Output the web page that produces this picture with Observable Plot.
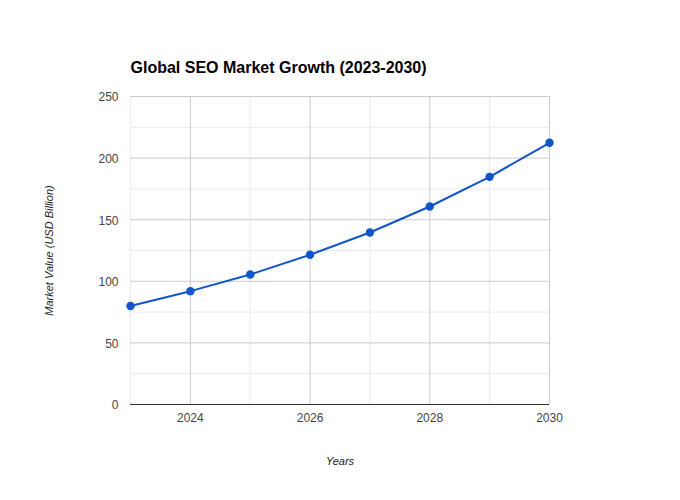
<!DOCTYPE html>
<html>
<head>
<meta charset="utf-8">
<script src="https://cdn.jsdelivr.net/npm/d3@7"></script>
<script src="https://cdn.jsdelivr.net/npm/@observablehq/plot@0.6"></script>
<style>
  html, body { margin: 0; padding: 0; background: #fff; }
  #chart svg { display: block; }
</style>
</head>
<body>
<div id="chart"></div>
<script>
const titleText = "Global SEO Market Growth (2023-2030)";
const xLabel = "Years";
const yLabel = "Market Value (USD Billion)";
const years = [2023, 2024, 2025, 2026, 2027, 2028, 2029, 2030];
const values = [80, 92, 105.5, 121.5, 139.6, 160.7, 184.8, 212.4];
const xTicks = [2024, 2026, 2028, 2030];
const xMinor = [2023, 2025, 2027, 2029];
const yTicks = [0, 50, 100, 150, 200, 250];
const yMinor = [25, 75, 125, 175, 225];

const data = years.map((y, i) => ({year: y, value: values[i]}));
const font = "'Liberation Sans', Arial, sans-serif";
const blue = "#1155cc";

const chart = Plot.plot({
  width: 680,
  height: 500,
  marginLeft: 130,
  marginRight: 131,
  marginTop: 96,
  marginBottom: 96,
  style: {fontFamily: font, background: "#fff"},
  x: {domain: [2023, 2030]},
  y: {domain: [0, 250]},
  marks: [
    Plot.ruleY(yMinor, {stroke: "#ebebeb", strokeWidth: 1}),
    Plot.ruleX(xMinor, {stroke: "#ebebeb", strokeWidth: 1}),
    Plot.ruleY(yTicks.filter(d => d !== 0), {stroke: "#cccccc", strokeWidth: 1}),
    Plot.ruleX(xTicks, {stroke: "#cccccc", strokeWidth: 1}),
    Plot.ruleY([0], {stroke: "#333333", strokeWidth: 1}),
    Plot.axisY({ticks: yTicks, tickSize: 0, tickPadding: 12, label: null, fontSize: 12, color: "#444", tickFormat: d => String(d), dy: 1}),
    Plot.axisX({ticks: xTicks, tickSize: 0, tickPadding: 9, label: null, fontSize: 12, color: "#444", tickFormat: d => String(d)}),
    Plot.line(data, {x: "year", y: "value", stroke: blue, strokeWidth: 2}),
    Plot.dot(data, {x: "year", y: "value", r: 4.2, fill: blue, stroke: null}),
    Plot.text([titleText], {frameAnchor: "top-left", text: d => d, dy: -24, lineAnchor: "bottom", textAnchor: "start", fontSize: 16, fontWeight: "bold", fill: "#000"}),
    Plot.text([xLabel], {frameAnchor: "bottom", text: d => d, dy: 57, lineAnchor: "middle", fontSize: 11, fontStyle: "italic", fill: "#222"}),
    Plot.text([yLabel], {frameAnchor: "left", text: d => d, dx: -81, rotate: -90, textAnchor: "middle", lineAnchor: "middle", fontSize: 11, fontStyle: "italic", fill: "#222"})
  ]
});
document.getElementById("chart").appendChild(chart);
</script>
</body>
</html>
